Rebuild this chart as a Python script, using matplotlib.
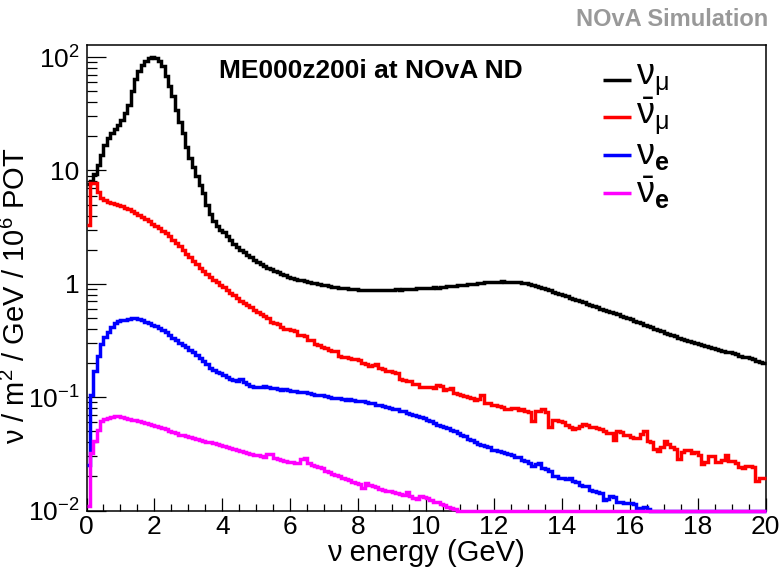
import numpy as np
import matplotlib
matplotlib.use("Agg")
import matplotlib.pyplot as plt
from matplotlib.ticker import FixedLocator, FixedFormatter, MultipleLocator, NullFormatter

plt.rcParams["font.family"] = ["Liberation Sans", "DejaVu Sans"]
plt.rcParams["mathtext.fontset"] = "custom"
plt.rcParams["mathtext.rm"] = "Liberation Sans"
plt.rcParams["mathtext.it"] = "Liberation Sans:italic"
plt.rcParams["mathtext.bf"] = "Liberation Sans:bold"

# 0.1 GeV bins from 0 to 20 GeV
bin_edges = np.linspace(0.0, 20.0, 201)

numu = [
    7.6, 8.0, 9.4, 11.2, 13.7, 16.8, 19.2, 21.5, 23.3, 25.0,
    28, 32, 38, 50, 64, 75, 85, 93, 98, 101,
    99, 93, 83, 68, 56, 45, 34, 27, 21.5, 16,
    13, 10.8, 8.9, 7.5, 6.3, 5.0, 4.1, 3.6, 3.25, 3.0,
    2.85, 2.62, 2.42, 2.25, 2.12, 2.0, 1.9, 1.8, 1.71, 1.63,
    1.56, 1.5, 1.44, 1.39, 1.35, 1.30, 1.26, 1.22, 1.19, 1.16,
    1.13, 1.11, 1.09, 1.07, 1.05, 1.04, 1.02, 1.01, 0.995, 0.985,
    0.97, 0.96, 0.945, 0.935, 0.925, 0.915, 0.91, 0.905, 0.898, 0.895,
    0.89, 0.888, 0.886, 0.884, 0.882, 0.881, 0.882, 0.884, 0.883, 0.886,
    0.888, 0.892, 0.89, 0.896, 0.9, 0.898, 0.905, 0.91, 0.915, 0.918,
    0.92, 0.925, 0.93, 0.928, 0.935, 0.94, 0.948, 0.955, 0.96, 0.968,
    0.975, 0.985, 0.99, 1.0, 1.005, 1.015, 1.02, 1.03, 1.035, 1.04,
    1.045, 1.045, 1.05, 1.048, 1.045, 1.04, 1.035, 1.03, 1.02, 1.01,
    0.995, 0.98, 0.96, 0.94, 0.92, 0.895, 0.875, 0.85, 0.83, 0.81,
    0.79, 0.775, 0.755, 0.74, 0.72, 0.70, 0.685, 0.665, 0.65, 0.635,
    0.62, 0.605, 0.59, 0.577, 0.563, 0.55, 0.537, 0.523, 0.51, 0.497,
    0.485, 0.47, 0.46, 0.448, 0.437, 0.425, 0.412, 0.402, 0.39, 0.38,
    0.37, 0.36, 0.352, 0.343, 0.336, 0.327, 0.32, 0.313, 0.306, 0.30,
    0.295, 0.289, 0.283, 0.278, 0.272, 0.267, 0.262, 0.258, 0.252, 0.248,
    0.243, 0.238, 0.233, 0.228, 0.224, 0.22, 0.215, 0.21, 0.205, 0.2,
]

numubar = [
    3.3, 7.8, 7.7, 6.5, 5.7, 5.45, 5.3, 5.2, 5.1, 5.0,
    4.85, 4.7, 4.55, 4.4, 4.2, 4.05, 3.9, 3.72, 3.55, 3.4,
    3.25, 3.1, 2.95, 2.8, 2.62, 2.45, 2.3, 2.15, 2.0, 1.85,
    1.72, 1.6, 1.49, 1.39, 1.3, 1.22, 1.15, 1.09, 1.03, 0.98,
    0.93, 0.88, 0.83, 0.79, 0.75, 0.71, 0.68, 0.65, 0.62, 0.59,
    0.565, 0.54, 0.515, 0.495, 0.46, 0.45, 0.445, 0.42, 0.40, 0.40,
    0.395, 0.38, 0.355, 0.35, 0.345, 0.322, 0.318, 0.295, 0.29, 0.275,
    0.27, 0.262, 0.258, 0.255, 0.232, 0.228, 0.226, 0.222, 0.215, 0.218,
    0.214, 0.2, 0.198, 0.19, 0.192, 0.198, 0.181, 0.178, 0.171, 0.17,
    0.167, 0.162, 0.145, 0.143, 0.14, 0.138, 0.131, 0.13, 0.122, 0.123,
    0.123, 0.122, 0.12, 0.128, 0.126, 0.115, 0.117, 0.121, 0.108, 0.106,
    0.104, 0.103, 0.101, 0.099, 0.0936, 0.096, 0.104, 0.089, 0.088, 0.086,
    0.085, 0.084, 0.082, 0.079, 0.078, 0.081, 0.08, 0.077, 0.079, 0.076,
    0.074, 0.062, 0.076, 0.075, 0.078, 0.074, 0.054, 0.063, 0.063, 0.061,
    0.06, 0.057, 0.054, 0.052, 0.053, 0.056, 0.058, 0.057, 0.054, 0.055,
    0.053, 0.052, 0.05, 0.0487, 0.048, 0.0422, 0.05, 0.049, 0.0465, 0.046,
    0.0445, 0.044, 0.0435, 0.047, 0.0505, 0.041, 0.04, 0.035, 0.0335, 0.036,
    0.041, 0.039, 0.036, 0.035, 0.0284, 0.033, 0.0345, 0.034, 0.0323, 0.033,
    0.031, 0.0257, 0.027, 0.0303, 0.03, 0.027, 0.0267, 0.028, 0.031, 0.0272,
    0.0275, 0.026, 0.024, 0.0238, 0.0245, 0.0248, 0.024, 0.0181, 0.0194, 0.0194,
]

nue = [
    0.025, 0.105, 0.169, 0.232, 0.296, 0.339, 0.372, 0.42, 0.45, 0.466,
    0.475, 0.482, 0.488, 0.495, 0.495, 0.485, 0.475, 0.46, 0.448, 0.436,
    0.425, 0.41, 0.394, 0.375, 0.355, 0.334, 0.318, 0.303, 0.29, 0.276,
    0.262, 0.248, 0.236, 0.222, 0.21, 0.196, 0.182, 0.175, 0.168, 0.163,
    0.158, 0.152, 0.146, 0.142, 0.139, 0.145, 0.136, 0.13, 0.126, 0.124,
    0.124, 0.123, 0.125, 0.122, 0.12, 0.121, 0.118, 0.116, 0.117, 0.115,
    0.114, 0.113, 0.111, 0.112, 0.11, 0.108, 0.107, 0.105, 0.104, 0.104,
    0.102, 0.1, 0.099, 0.098, 0.098, 0.097, 0.095, 0.096, 0.094, 0.092,
    0.093, 0.092, 0.09, 0.089, 0.088, 0.086, 0.085, 0.084, 0.082, 0.081,
    0.079, 0.078, 0.076, 0.075, 0.073, 0.071, 0.07, 0.068, 0.067, 0.066,
    0.063, 0.061, 0.059, 0.057, 0.056, 0.054, 0.053, 0.051, 0.05, 0.048,
    0.0465, 0.045, 0.043, 0.042, 0.040, 0.0385, 0.0375, 0.037, 0.036, 0.0345,
    0.034, 0.0335, 0.033, 0.032, 0.0318, 0.031, 0.0298, 0.0295, 0.028, 0.0272,
    0.0265, 0.0245, 0.0255, 0.026, 0.0238, 0.0232, 0.0225, 0.0203, 0.02, 0.0194,
    0.0192, 0.019, 0.0195, 0.0181, 0.0178, 0.0168, 0.0166, 0.0165, 0.0152, 0.0148,
    0.0145, 0.0142, 0.0124, 0.0126, 0.0134, 0.0132, 0.012, 0.0119, 0.0117, 0.0116,
    0.0116, 0.0115, 0.0106, 0.0105, 0.0107, 0.0104, 0.0095, 0.0092, 0.009, 0.0088,
    0.0086, 0.0084, 0.0082, 0.008, 0.0078, 0.0076, 0.0074, 0.0072, 0.007, 0.0068,
    0.0066, 0.0064, 0.0063, 0.0061, 0.006, 0.0058, 0.0057, 0.0055, 0.0054, 0.0052,
    0.0051, 0.005, 0.0048, 0.0047, 0.0046, 0.0045, 0.0044, 0.0043, 0.0042, 0.0041,
]

nuebar = [
    0.011, 0.0322, 0.0408, 0.0518, 0.0612, 0.0645, 0.066, 0.067, 0.068, 0.0678,
    0.0665, 0.065, 0.064, 0.0635, 0.0628, 0.062, 0.0605, 0.0593, 0.058, 0.0565,
    0.0555, 0.054, 0.053, 0.052, 0.0505, 0.049, 0.0478, 0.0468, 0.0462, 0.0452,
    0.0445, 0.0435, 0.0425, 0.0415, 0.041, 0.0405, 0.04, 0.0395, 0.0385, 0.0375,
    0.0368, 0.0362, 0.0355, 0.0348, 0.034, 0.0333, 0.0328, 0.032, 0.0315, 0.031,
    0.0308, 0.0305, 0.0298, 0.0315, 0.0318, 0.0292, 0.0285, 0.0278, 0.0275, 0.027,
    0.0268, 0.0265, 0.0262, 0.0285, 0.029, 0.026, 0.0252, 0.0245, 0.024, 0.0235,
    0.0225, 0.022, 0.0212, 0.0205, 0.02, 0.0195, 0.019, 0.0185, 0.018, 0.0176,
    0.0172, 0.0158, 0.0175, 0.0168, 0.0165, 0.016, 0.0156, 0.0152, 0.015, 0.0148,
    0.0145, 0.0142, 0.014, 0.0137, 0.0145, 0.0133, 0.0128, 0.0126, 0.0133, 0.0132,
    0.0128, 0.0125, 0.012, 0.0118, 0.0114, 0.0111, 0.0108, 0.0106, 0.0104, 0.0096,
    0.0093, 0.009, 0.0088, 0.0086, 0.0083, 0.0081, 0.0079, 0.0077, 0.0075, 0.0073,
    0.0071, 0.0069, 0.0067, 0.0065, 0.0064, 0.0062, 0.006, 0.0059, 0.0057, 0.0056,
    0.0054, 0.0053, 0.0052, 0.005, 0.0049, 0.0048, 0.0047, 0.0045, 0.0044, 0.0043,
    0.0042, 0.0041, 0.004, 0.0039, 0.0038, 0.0037, 0.0036, 0.0035, 0.0035, 0.0034,
    0.0033, 0.0032, 0.0031, 0.0031, 0.003, 0.0029, 0.0029, 0.0028, 0.0027, 0.0027,
    0.0026, 0.0025, 0.0025, 0.0024, 0.0024, 0.0023, 0.0023, 0.0022, 0.0022, 0.0021,
    0.0021, 0.002, 0.002, 0.0019, 0.0019, 0.0018, 0.0018, 0.0018, 0.0017, 0.0017,
    0.0016, 0.0016, 0.0016, 0.0015, 0.0015, 0.0015, 0.0014, 0.0014, 0.0014, 0.0013,
    0.0013, 0.0013, 0.0013, 0.0012, 0.0012, 0.0012, 0.0011, 0.0011, 0.0011, 0.0011,
]

series_labels = [r"$\mathrm{ν}_{\mathrm{μ}}$", r"$\bar{\mathrm{ν}}_{\mathrm{μ}}$",
                 r"$\mathrm{ν}_{\mathbf{e}}$", r"$\bar{\mathrm{ν}}_{\mathbf{e}}$"]
series_colors = ["black", "#ff0000", "#0000ff", "#ff00ff"]
y_tick_values = [1e-2, 1e-1, 1, 10, 100]
y_tick_labels = [r"$10^{-2}$", r"$10^{-1}$", "1", "10", r"$10^{2}$"]
x_tick_values = [0, 2, 4, 6, 8, 10, 12, 14, 16, 18, 20]

Y_MIN, Y_MAX = 1e-2, 128.0

fig = plt.figure(figsize=(7.81, 5.67), dpi=100)
W, H = 781.0, 567.0
AX_L, AX_R, AX_T, AX_B = 86.5, 765.5, 45.0, 510.5
ax = fig.add_axes([AX_L / W, (H - AX_B) / H, (AX_R - AX_L) / W, (AX_B - AX_T) / H])


def ax_frac(px, py):
    """Pixel position on the canvas -> axes fraction."""
    return (px - AX_L) / (AX_R - AX_L), (AX_B - py) / (AX_B - AX_T)


for vals, col, lab in zip([numu, numubar, nue, nuebar], series_colors, series_labels):
    v = np.asarray(vals, dtype=float)
    assert v.size == 200
    # bins below the frame floor are drawn on the floor
    ax.stairs(np.clip(v, Y_MIN, None), bin_edges, baseline=None, color=col,
              lw=2.5, label=lab, clip_on=False, zorder=3)

ax.set_yscale("log")
ax.set_xlim(0, 20)
ax.set_ylim(Y_MIN, Y_MAX)

ax.yaxis.set_major_locator(FixedLocator(y_tick_values))
ax.yaxis.set_major_formatter(FixedFormatter(y_tick_labels))
minor_y = [m * 10.0 ** e for e in range(-2, 3) for m in range(2, 10)]
ax.yaxis.set_minor_locator(FixedLocator([t for t in minor_y if t < Y_MAX]))
ax.yaxis.set_minor_formatter(NullFormatter())
ax.xaxis.set_major_locator(FixedLocator(x_tick_values))
ax.xaxis.set_minor_locator(MultipleLocator(0.5))

ax.tick_params(axis="both", which="both", direction="in", top=False, right=False,
               width=0.9, labelsize=19)
ax.tick_params(axis="x", which="major", length=9.5, pad=3)
ax.tick_params(axis="x", which="minor", length=5)
ax.tick_params(axis="y", which="major", length=14, pad=5)
ax.tick_params(axis="y", which="minor", length=7)
for s in ax.spines.values():
    s.set_linewidth(1.1)

ax.text(0.418, 0.944, "ME000z200i at NOvA ND", transform=ax.transAxes,
        ha="center", va="center", fontsize=19, fontweight="bold")

# legend: short colour keys next to large neutrino symbols
key_rows_py = [80, 117, 155, 193]
for col, lab, py in zip(series_colors, series_labels, key_rows_py):
    x0, y0 = ax_frac(603, py)
    x1, _ = ax_frac(631, py)
    ax.plot([x0, x1], [y0, y0], transform=ax.transAxes, color=col, lw=2.5,
            solid_capstyle="butt", clip_on=False)
    xt, yt = ax_frac(636, py)
    ax.text(xt, yt, lab, transform=ax.transAxes, ha="left", va="center", fontsize=26)

fig.text(426 / W, 1 - 553 / H, "ν energy (GeV)", ha="center", va="center", fontsize=21)
fig.text(16 / W, 1 - 296 / H, r"ν / m$^{2}$ / GeV / 10$^{6}$ POT", rotation=90,
         ha="center", va="center", fontsize=21)
fig.text(768 / W, 1 - 20 / H, "NOvA Simulation", ha="right", va="center",
         fontsize=17, fontweight="bold", color="#999999")

fig.savefig("out.png", dpi=100)
